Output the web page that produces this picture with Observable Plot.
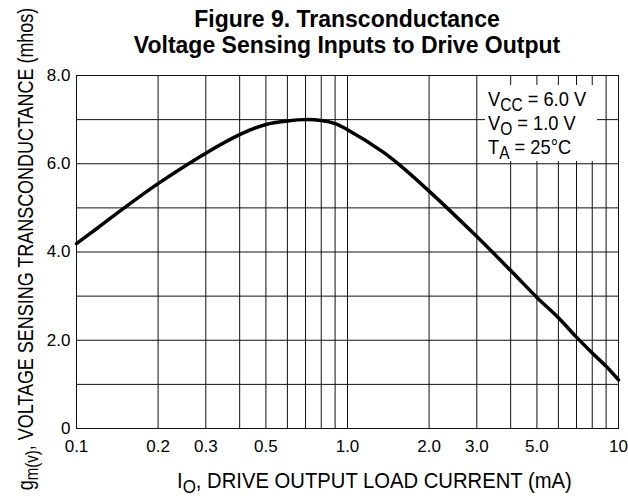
<!DOCTYPE html>
<html>
<head>
<meta charset="utf-8">
<script src="https://cdn.jsdelivr.net/npm/d3@7"></script>
<script src="https://cdn.jsdelivr.net/npm/@observablehq/plot@0.6"></script>
<style>
  html, body { margin: 0; padding: 0; background: #fff; }
  #wrap { position: relative; width: 628px; height: 499px; font-family: "Liberation Sans", Arial, Helvetica, sans-serif; color: #000; }
  .title { position: absolute; left: 76px; width: 542px; height: 26px; text-align: center; font-weight: bold; font-size: 23px; line-height: 26px; white-space: nowrap; }
  .legend { position: absolute; left: 485px; top: 85px; width: 112px; height: 76px; background: #fff; }
  .legend .ln { position: absolute; left: 3px; height: 22px; font-size: 21px; line-height: 21px; white-space: nowrap; transform: scaleX(0.87); transform-origin: left top; }
  .legend sub { font-size: 0.85em; vertical-align: -0.3em; line-height: 0; }
</style>
</head>
<body>
<div id="wrap">
  <div id="chart"></div>
  <div class="title" style="top:6px">Figure 9. Transconductance</div>
  <div class="title" style="top:32px">Voltage Sensing Inputs to Drive Output</div>
  <div class="legend">
    <div class="ln" style="top:3px">V<sub>CC</sub> = 6.0 V</div>
    <div class="ln" style="top:27px">V<sub>O</sub> = 1.0 V</div>
    <div class="ln" style="top:51px">T<sub>A</sub> = 25°C</div>
  </div>
</div>
<script>
// Curve (I_O in mA, g_m(v) in mhos)
const currentMA = [0.1, 0.12, 0.15, 0.2, 0.3, 0.4, 0.5, 0.6, 0.7, 0.8, 0.9, 1.0, 1.35, 1.56, 2.0, 3.0, 4.0, 5.0, 6.0, 7.0, 8.0, 9.0, 10];
const gmMhos    = [4.19, 4.55, 5.0, 5.55, 6.24, 6.66, 6.89, 6.97, 7.0, 6.98, 6.91, 6.77, 6.27, 5.97, 5.38, 4.35, 3.58, 2.97, 2.51, 2.07, 1.71, 1.41, 1.1];

// Axes
const xGridValues = [0.1, 0.2, 0.3, 0.4, 0.5, 0.6, 0.7, 0.8, 0.9, 1, 2, 3, 4, 5, 6, 7, 8, 9, 10];
const xTickValues = [0.1, 0.2, 0.3, 0.5, 1, 2, 3, 5, 10];
const xTickLabels = ["0.1", "0.2", "0.3", "0.5", "1.0", "2.0", "3.0", "5.0", "10"];
const yGridValues = [0, 1, 2, 3, 4, 5, 6, 7, 8];
const yTickValues = [0, 2, 4, 6, 8];
const yTickLabels = ["0", "2.0", "4.0", "6.0", "8.0"];

const data = currentMA.map((x, i) => ({x, y: gmMhos[i]}));
const xLabelOf = d => xTickLabels[xTickValues.findIndex(v => Math.abs(v - d) < 1e-9)];
const yLabelOf = d => yTickLabels[yTickValues.findIndex(v => Math.abs(v - d) < 1e-9)];

const chart = Plot.plot({
  width: 628,
  height: 499,
  marginTop: 75,
  marginBottom: 71,
  marginLeft: 76,
  marginRight: 10,
  style: {fontFamily: "'Liberation Sans', Arial, Helvetica, sans-serif", fontSize: "17px", color: "#000", background: "#fff"},
  x: {type: "log", domain: [0.1, 10]},
  y: {domain: [0, 8]},
  marks: [
    Plot.gridX(xGridValues, {stroke: "#111", strokeOpacity: 1, strokeWidth: 1}),
    Plot.gridY(yGridValues, {stroke: "#111", strokeOpacity: 1, strokeWidth: 1}),
    Plot.frame({stroke: "#111", strokeWidth: 1}),
    Plot.line(data, {x: "x", y: "y", stroke: "#000", strokeWidth: 3.5, curve: "catmull-rom"}),
    Plot.axisX({ticks: xTickValues, tickSize: 0, tickPadding: 11, fontSize: 17, label: null, tickFormat: xLabelOf}),
    Plot.axisY({ticks: yTickValues, tickSize: 0, tickPadding: 6, fontSize: 17, label: null, tickFormat: yLabelOf})
  ]
});
document.getElementById("chart").appendChild(chart);

// Axis titles with subscripts, condensed to the reference's widths
const svg = d3.select(chart);
function condensedLabel(g, parts, targetWidth, anchor) {
  const t = g.append("text")
    .attr("font-size", 21.5)
    .attr("fill", "#000")
    .attr("text-anchor", anchor);
  parts.forEach(([s, sub]) => {
    const ts = t.append("tspan").text(s);
    if (sub === 1) ts.attr("dy", 5).attr("font-size", 18);
    if (sub === -1) ts.attr("dy", -5);
  });
  const w = t.node().getComputedTextLength();
  return w > 0 ? targetWidth / w : 0.82;
}
const gy = svg.append("g");
const sy = condensedLabel(gy, [["g", 0], ["m(v)", 1], [", VOLTAGE SENSING TRANSCONDUCTANCE (mhos)", -1]], 483, "middle");
gy.attr("transform", `translate(33,249) rotate(-90) scale(${sy},1)`);

const gx = svg.append("g");
const sx = condensedLabel(gx, [["I", 0], ["O", 1], [", DRIVE OUTPUT LOAD CURRENT (mA)", -1]], 395, "start");
gx.attr("transform", `translate(177,488) scale(${sx},1)`);
</script>
</body>
</html>
